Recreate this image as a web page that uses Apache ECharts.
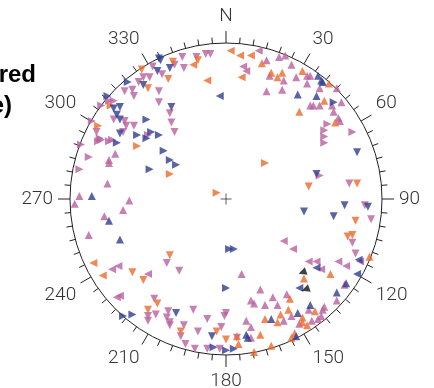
<!DOCTYPE html>
<html>
<head>
<meta charset="utf-8">
<style>
  html, body { margin: 0; padding: 0; background: #fff; }
  #chart { width: 434px; height: 388px; }
</style>
<script src="https://cdn.jsdelivr.net/npm/echarts@6/dist/echarts.min.js"></script>
</head>
<body>
<div id="chart"></div>
<script>
// points: [east, north] in % of the net radius, 3rd value = direction the triangle points (deg from N)
const orange = [
  [3,95,270],[-18,89,180],[-34,88,180],[-21,86,270],[-54,83,180],[-37,77,180],[-12,76,270],
  [-50,71,180],[-74,60,90],[-82,47,90],[9,92,270],[16,92,270],[23,87,0],[10,78,270],
  [29,81,0],[36,81,0],[33,78,0],[49,82,0],[66,74,0],[63,63,0],[47,56,0],[70,49,0],
  [-57,34,90],[-36,16,90],[-6,4,90],[-36,-36,180],[25,23,90],[84,10,180],[53,8,180],
  [83,-14,180],[78,-24,180],[81,-23,180],[92,-37,0],[-85,-41,270],[-79,-49,270],
  [-60,-47,180],[-53,-52,180],[-44,-67,180],[-50,-71,180],[-29,-85,180],[-6,-85,180],
  [0,-90,180],[8,-93,0],[50,-51,0],[67,-48,0],[41,-64,0],[40,-71,0],[57,-72,0],
  [35,-74,0],[49,-76,0],[49,-79,0],[25,-77,0],[33,-79,0],[52,-81,0],[7,-88,0],
  [22,-87,0],[44,-86,0],[42,-89,0],[18,-98,0],[29,-94,0]
];
const purple = [
  [-13,93,180],[-10,93,180],[-19,91,180],[-28,91,180],[-33,86,180],[-27,84,180],[-47,85,180],
  [-41,80,180],[-53,78,180],[-49,78,180],[-56,75,180],[-65,69,180],[-60,70,180],[-43,69,180],
  [-75,63,90],[-72,63,90],[-59,66,180],[-43,62,180],[-80,60,90],[-36,55,180],[-72,51,180],
  [-65,50,180],[-64,47,180],[-86,50,90],[21,95,270],[34,91,0],[38,92,0],[26,89,0],[42,86,0],
  [11,85,270],[13,82,270],[28,79,0],[37,76,0],[45,78,0],[52,79,0],[54,79,0],[52,74,0],
  [60,71,0],[71,71,0],[26,69,0],[36,70,0],[74,62,0],[54,60,0],[56,60,0],[60,60,0],[68,60,0],
  [69,56,0],[72,52,0],[73,50,0],[65,48,90],[-83,43,180],[-66,43,180],[-59,47,180],
  [-50,41,90],[-35,49,180],[-33,43,180],[-81,39,90],[-82,37,90],[-80,38,90],[-75,37,90],
  [-73,38,90],[-93,35,90],[-71,29,0],[-88,27,90],[-75,25,0],[-75,23,0],[-94,19,90],
  [-76,10,0],[-94,2,0],[-97,-3,0],[-62,-1,0],[-66,-7,0],[-78,-11,0],[-88,-23,0],
  [63,44,90],[63,40,90],[63,36,90],[81,43,90],[60,15,90],[79,10,180],[89,-4,180],
  [93,-13,180],[81,-28,180],[37,-27,270],[43,-32,270],[83,-35,180],[-73,-45,270],
  [-69,-43,270],[-38,-41,180],[-30,-46,180],[-50,-48,270],[-70,-63,270],[-68,-62,270],
  [-46,-64,180],[-21,-71,180],[0,-73,180],[-1,-75,180],[-37,-72,180],[-50,-75,180],
  [-50,-78,180],[-45,-74,180],[-38,-76,180],[-36,-79,180],[-36,-81,180],[-27,-81,180],
  [-12,-77,180],[-18,-85,180],[-3,-82,180],[-29,-88,180],[7,-89,180],[-26,-93,180],
  [-20,-96,180],[-12,-96,180],[-4,-96,180],[86,-40,270],[53,-40,270],[58,-40,270],
  [72,-40,270],[77,-43,270],[61,-45,270],[10,-48,0],[76,-55,0],[22,-58,0],[39,-61,0],
  [30,-63,0],[71,-65,0],[16,-65,0],[18,-67,0],[25,-68,0],[33,-68,0],[53,-71,0],[63,-69,0],
  [62,-71,0],[42,-75,0],[37,-78,0],[55,-78,0],[59,-77,0],[61,-75,0],[47,-80,0],[13,-78,0],
  [16,-82,0],[16,-89,0]
];
const blue = [
  [-43,90,180],[-42,89,180],[-36,84,180],[-44,82,180],[-63,75,90],[-53,73,180],[-4,66,270],
  [-76,66,90],[-68,59,180],[-72,58,180],[-35,59,180],[-70,54,180],[-68,51,180],[-51,51,90],
  [59,79,0],[61,76,0],[62,75,0],[46,67,0],[58,66,0],[69,62,90],[-68,42,180],[-57,41,90],
  [-51,39,90],[-48,43,90],[-43,41,90],[-70,36,90],[-40,31,90],[-36,25,90],[-32,22,90],
  [-49,19,90],[-86,2,0],[-75,-14,0],[-68,-26,0],[2,-32,90],[5,-32,90],[84,30,180],
  [58,16,180],[76,-4,180],[91,-5,180],[50,-8,180],[69,-11,180],[85,-39,270],[0,-57,90],
  [-32,-73,180],[-60,-74,90],[-66,-75,90],[-9,-88,180],[-8,-95,90],[0,-97,90],[5,-96,90],
  [58,-44,270],[84,-48,270],[47,-57,270],[77,-54,0],[71,-60,0],[54,-68,0],[46,-73,0],
  [29,-77,0],[13,-87,0],[14,-89,0],[45,-88,0]
];
const black = [[49,-47,250],[51,-58,250]];

const angleLabels = {0: 'N', 360: ''};

function triangles(name, data, color) {
  return {
    name: name,
    type: 'scatter',
    symbol: 'triangle',
    symbolSize: 8,
    silent: true,
    z: 3,
    itemStyle: { color: color },
    data: data.map(function (d) {
      return { value: [d[0], d[1]], symbolRotate: -d[2] };
    })
  };
}

const chart = echarts.init(document.getElementById('chart'));
chart.setOption({
  animation: false,
  backgroundColor: '#fff',
  polar: { center: [226, 199], radius: 156 },
  angleAxis: {
    type: 'value',
    min: 0,
    max: 360,
    interval: 30,
    startAngle: 90,
    clockwise: true,
    axisLine: { lineStyle: { color: '#222', width: 1 } },
    axisTick: { length: 12, lineStyle: { color: '#222', width: 1 } },
    minorTick: { show: true, splitNumber: 6, length: 6, lineStyle: { color: '#222', width: 1 } },
    splitLine: { show: false },
    axisLabel: {
      margin: 17,
      fontSize: 19,
      color: '#333',
      fontFamily: 'Roboto',
      fontWeight: 300,
      formatter: function (v) { return v in angleLabels ? angleLabels[v] : String(v); }
    }
  },
  radiusAxis: { show: false, min: 0, max: 100, splitLine: { show: false } },
  grid: { left: 70, top: 43, width: 312, height: 312 },
  xAxis: { type: 'value', min: -100, max: 100, show: false },
  yAxis: { type: 'value', min: -100, max: 100, show: false },
  graphic: [
    { type: 'text', x: 36, y: 75, style: { text: 'Measured', textAlign: 'right', textVerticalAlign: 'middle', font: 'bold 24px "Liberation Sans", Arial, sans-serif', fill: '#000' } },
    { type: 'text', x: 12, y: 106, style: { text: '(by type)', textAlign: 'right', textVerticalAlign: 'middle', font: 'bold 24px "Liberation Sans", Arial, sans-serif', fill: '#000' } }
  ],
  series: [
    triangles('purple', purple, '#b8609f'),
    triangles('orange', orange, '#ec6a2c'),
    triangles('blue', blue, '#2e3d8f'),
    triangles('black', black, '#111'),
    {
      type: 'scatter',
      silent: true,
      z: 4,
      symbol: 'path://M0,5L10,5M5,0L5,10',
      symbolSize: 11,
      itemStyle: { color: 'none', borderColor: '#333', borderWidth: 1 },
      data: [[0, 0]]
    }
  ]
});
</script>
</body>
</html>
